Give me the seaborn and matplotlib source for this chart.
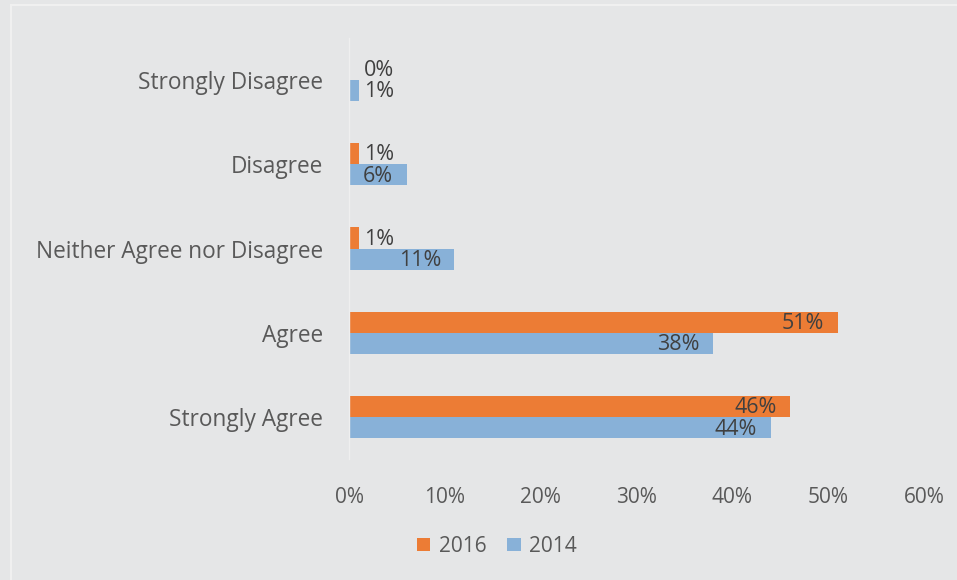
import matplotlib
matplotlib.use("Agg")
import matplotlib.pyplot as plt
import seaborn as sns
import pandas as pd
from matplotlib.patches import Rectangle

categories = ["Strongly Disagree", "Disagree", "Neither Agree nor Disagree", "Agree", "Strongly Agree"]
values_2016 = [0, 1, 1, 51, 46]
values_2014 = [1, 6, 11, 38, 44]
series = ["2016", "2014"]
xticks = [0, 10, 20, 30, 40, 50, 60]
xtick_labels = ["0%", "10%", "20%", "30%", "40%", "50%", "60%"]

df = pd.DataFrame({
    "category": categories * 2,
    "year": ["2016"] * len(categories) + ["2014"] * len(categories),
    "value": values_2016 + values_2014,
})

sns.set_theme(style="white")
plt.rcParams["font.family"] = ["Open Sans", "DejaVu Sans"]

bg = "#e5e6e7"
txt = "#595959"
fig = plt.figure(figsize=(9.57, 5.8), dpi=100, facecolor=bg)
fig.patches.append(Rectangle((0.011, -0.05), 1.1, 1.041, transform=fig.transFigure,
                             fill=False, edgecolor="#f0f0f0", linewidth=1.5))
ax = fig.add_axes([0.3647, 0.208, 0.6008, 0.727])
ax.set_facecolor(bg)

palette = {"2016": "#EC7C35", "2014": "#88B1D8"}
sns.barplot(data=df, y="category", x="value", hue="year", hue_order=series,
            order=categories, orient="h", palette=palette, width=0.5,
            edgecolor=None, linewidth=0, saturation=1, ax=ax, legend=True)

for cont in ax.containers:
    for bar in cont:
        w = bar.get_width()
        yc = bar.get_y() + bar.get_height() / 2 + 0.015
        label = f"{int(round(w))}%"
        if w >= 5:
            ax.text(w - 1.4, yc, label, ha="right", va="center", fontsize=15.5, color="#404040")
        else:
            ax.text(1.6, yc, label, ha="left", va="center", fontsize=15.5, color="#404040")

ax.set_xlim(0, 60)
ax.set_xticks(xticks)
ax.set_xticklabels(xtick_labels, fontsize=15, color=txt)
ax.tick_params(axis="x", length=0, pad=20)
ax.tick_params(axis="y", length=0, pad=19, labelsize=16.3, labelcolor=txt)
ax.set_xlabel("")
ax.set_ylabel("")
for s in ["top", "right", "bottom"]:
    ax.spines[s].set_visible(False)
ax.spines["left"].set_color("#efefef")
ax.spines["left"].set_linewidth(1)

handles, labels = ax.get_legend_handles_labels()
ax.legend_.remove()
fig.legend(handles, labels, loc="center", bbox_to_anchor=(0.519, 0.058), ncol=2,
           frameon=False, fontsize=15, handlelength=0.65, handleheight=0.65,
           handletextpad=0.4, columnspacing=1.0, labelcolor=txt)

fig.savefig("out.png", dpi=100, facecolor=bg)
